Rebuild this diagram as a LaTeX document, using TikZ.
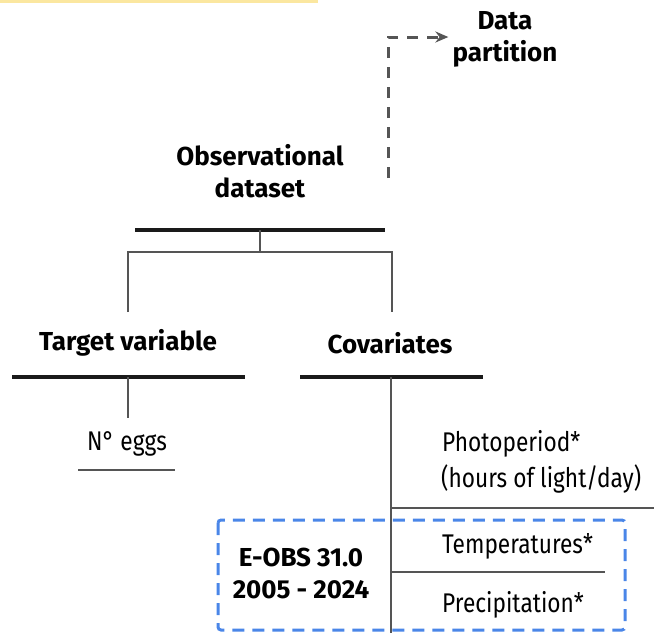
\documentclass[tikz,border=0pt]{standalone}
\usepackage{fontspec}
\setmainfont{Fira Sans}
\newfontfamily\leaffont{Fira Sans}[FakeStretch=0.84]
\usetikzlibrary{positioning,arrows.meta,calc}

\definecolor{barcol}{HTML}{1A1A1A}
\definecolor{linecol}{HTML}{555555}
\definecolor{boxblue}{HTML}{4A86E8}
\definecolor{topyellow}{HTML}{FBE7A0}

\tikzset{
    head/.style = {font=\bfseries\fontsize{26}{32}\selectfont, align=center, inner sep=0pt},
    leaf/.style = {font=\leaffont\fontsize{27}{36}\selectfont, align=center, inner sep=0pt},
    bar/.style = {draw=barcol, line width=4pt},
    thin/.style = {draw=linecol, line width=1.2pt},
}

\begin{document}
\begin{tikzpicture}[x=1pt, y=-1pt]
\useasboundingbox (0,0) rectangle (654,633);

\fill[topyellow] (0,0) rectangle (318,2.5);

% headings
\node[head] (obs) at (260,171) {Observational\\dataset};
\node[head] (part) at (505,39) {Data\\partition};
\node[head] (target) at (128,343) {Target variable};
\node[head] (cov) at (390,343) {Covariates};

% leaves
\node[leaf] (eggs) at (127,444) {N° eggs};
\node[leaf, anchor=west] (photo) at (442,444) {Photoperiod*};
\node[leaf, anchor=west] (hours) at (441,479) {(hours of light/day)};
\node[leaf, anchor=west] (temp) at (442,546) {Temperatures*};
\node[leaf, anchor=west] (prec) at (442,605) {Precipitation*};
\node[head] (eobs) at (301,573) {E-OBS 31.0\\2005 - 2024};

% bars
\coordinate (b0l) at (135,230);
\coordinate (b0r) at (385,230);
\coordinate (b1l) at (12,377);
\coordinate (b1r) at (245,377);
\coordinate (b2l) at (300,377);
\coordinate (b2r) at (483,377);
\draw[bar] (b0l) -- (b0r);
\draw[bar] (b1l) -- (b1r);
\draw[bar] (b2l) -- (b2r);

% tree
\coordinate (fork) at (260,252);
\coordinate (stemc) at (391,377);
\draw[thin] ($(b0l)!0.5!(b0r)$) -- (fork);
\draw[thin] (128,312) |- (fork) -| (392,312);
\draw[thin] (128,377) -- (128,418);
\draw[thin] (78,470) -- (175,470);
\draw[thin] (stemc) -- (391,633);
\draw[thin] (391,508) -- (654,508);
\draw[thin] (391,572) -- (605,572);

% E-OBS box
\draw[boxblue, line width=3pt, dash pattern=on 12pt off 8pt, rounded corners=3pt]
    (218,520) rectangle (625,630);

% partition
\coordinate (dstart) at (388,178);
\draw[linecol, line width=3pt, dash pattern=on 11pt off 9pt, -{Stealth[length=13pt,width=11pt]}]
    (dstart) |- ($(part.west |- 0,37) + (-4,0)$);
\end{tikzpicture}
\end{document}
